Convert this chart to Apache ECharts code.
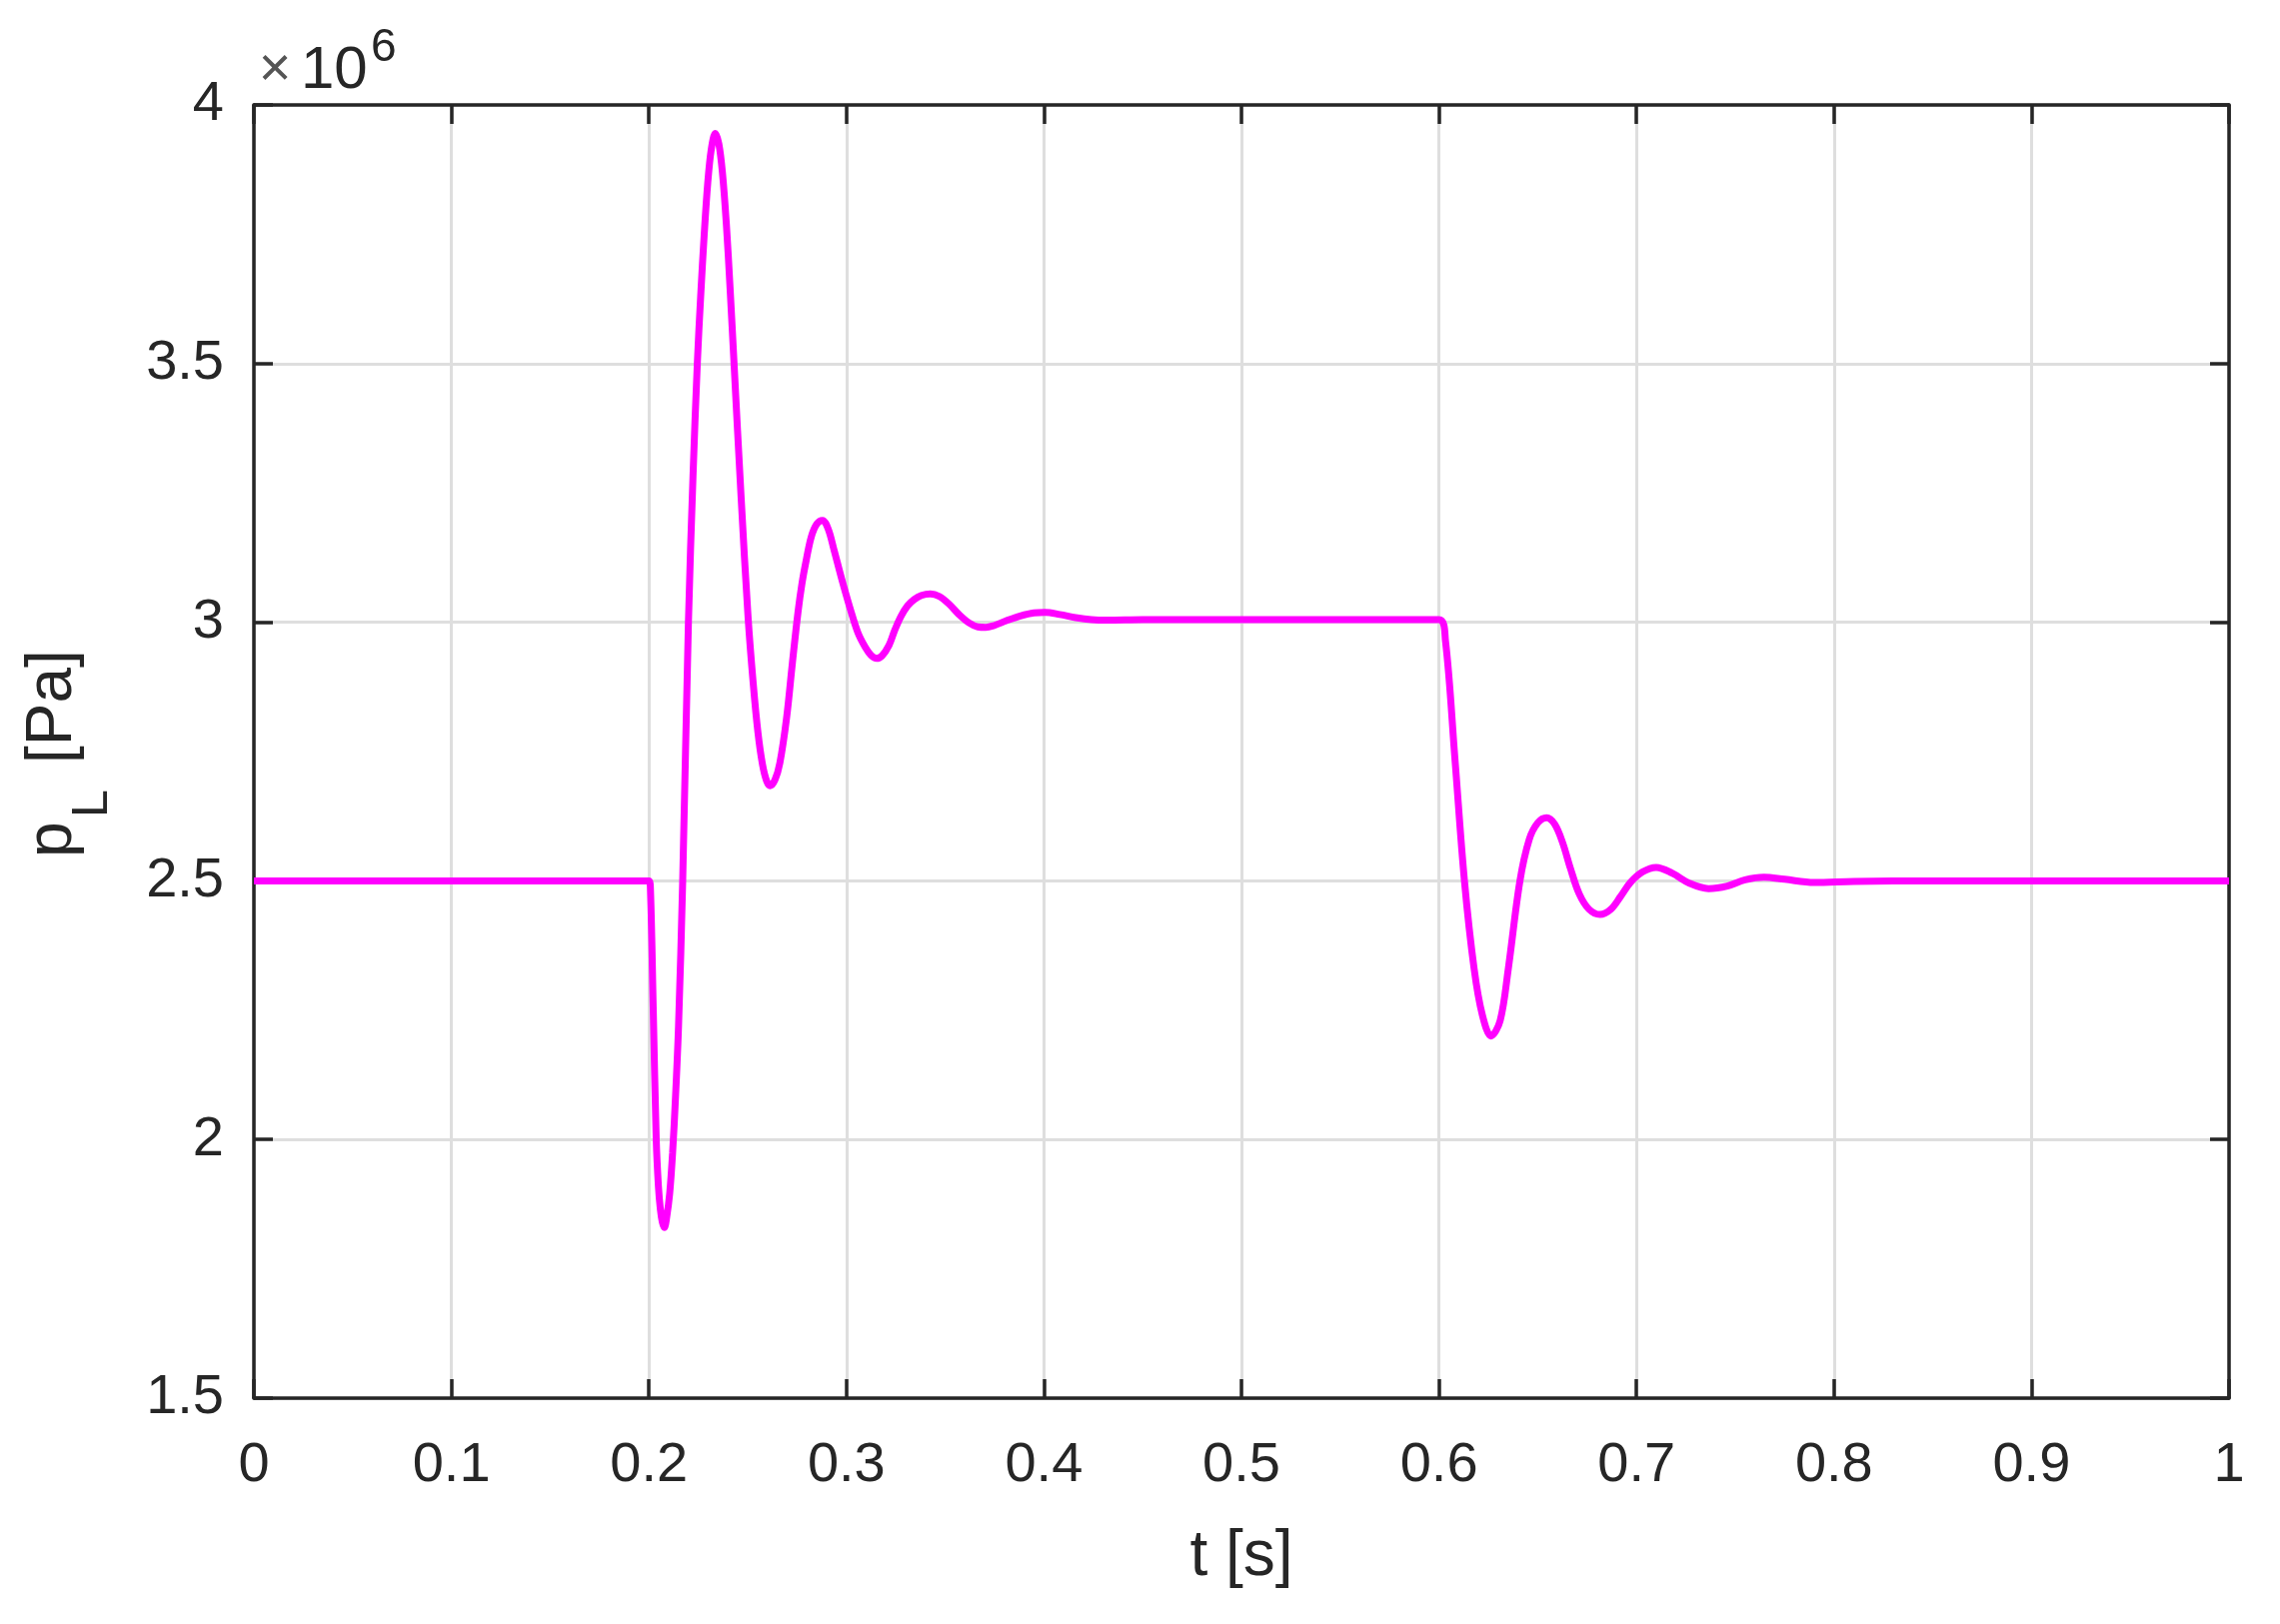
<!DOCTYPE html>
<html>
<head>
<meta charset="utf-8">
<title>p_L [Pa]</title>
<script src="https://cdn.jsdelivr.net/npm/echarts@6/dist/echarts.min.js"></script>
<style>
  html, body { margin: 0; padding: 0; background: #fff; }
  #chart { width: 2281px; height: 1625px; }
</style>
</head>
<body>
<div id="chart"></div>
<script>
// load pressure p_L, in units of 10^6 Pa
// up to t = 0.6 s (step up at 0.2 s)
var riseTime = [
  0, 0.2, 0.2008, 0.2022, 0.2037, 0.2048, 0.2058, 0.2068, 0.2078, 0.209,
  0.2105, 0.212, 0.2135, 0.215, 0.2171, 0.22, 0.2223, 0.2245, 0.2262, 0.228,
  0.2298, 0.2316, 0.2336, 0.2354, 0.2372, 0.2392, 0.2411, 0.2431, 0.2467, 0.2502,
  0.2528, 0.2552, 0.2575, 0.2596, 0.2614, 0.2638, 0.2663, 0.2697, 0.2726, 0.2755,
  0.2775, 0.2796, 0.2822, 0.285, 0.2879, 0.2908, 0.2937, 0.2975, 0.302, 0.3058,
  0.3095, 0.3125, 0.3153, 0.318, 0.3215, 0.3245, 0.3277, 0.331, 0.3343, 0.338,
  0.3425, 0.347, 0.352, 0.357, 0.362, 0.3665, 0.3705, 0.375, 0.381, 0.388,
  0.395, 0.4005, 0.408, 0.416, 0.424, 0.432, 0.45, 0.6
]
var riseP = [
  2.5, 2.5, 2.48, 2.25, 2.0, 1.91, 1.865, 1.84, 1.83, 1.85,
  1.895, 1.975, 2.085, 2.22, 2.5, 3.0, 3.28, 3.5, 3.63, 3.75,
  3.85, 3.915, 3.945, 3.925, 3.87, 3.77, 3.645, 3.5, 3.24, 3.01,
  2.882, 2.787, 2.725, 2.693, 2.684, 2.695, 2.728, 2.815, 2.92, 3.02,
  3.075, 3.119, 3.165, 3.19, 3.197, 3.18, 3.14, 3.085, 3.025, 2.98,
  2.952, 2.936, 2.93, 2.935, 2.955, 2.985, 3.012, 3.032, 3.044, 3.052,
  3.055, 3.05, 3.035, 3.015, 2.999, 2.991, 2.99, 2.994, 3.003, 3.012,
  3.018, 3.019, 3.015, 3.009, 3.005, 3.004, 3.005, 3.005
]
// after t = 0.6 s (step down)
var fallTime = [
  0.6033, 0.6081, 0.6129, 0.6178, 0.622, 0.6264, 0.631, 0.6351, 0.641, 0.6457,
  0.65, 0.6545, 0.6585, 0.6625, 0.6665, 0.671, 0.676, 0.6815, 0.687, 0.692,
  0.697, 0.703, 0.71, 0.718, 0.727, 0.7365, 0.746, 0.755, 0.7645, 0.775,
  0.79, 0.81, 0.85, 1.0
]
var fallP = [
  2.964, 2.735, 2.5, 2.33, 2.24, 2.2, 2.23, 2.33, 2.5, 2.58,
  2.612, 2.622, 2.61, 2.575, 2.525, 2.475, 2.445, 2.435, 2.445, 2.47,
  2.497, 2.517, 2.526, 2.515, 2.495, 2.485, 2.49, 2.502, 2.507, 2.503,
  2.497, 2.499, 2.5, 2.5
]
var xTicks = [0, 0.1, 0.2, 0.3, 0.4, 0.5, 0.6, 0.7, 0.8, 0.9, 1]
var yTicks = [1.5, 2, 2.5, 3, 3.5, 4]

var axisColor = '#262626'
var font = 'Liberation Sans'

var chart = echarts.init(document.getElementById('chart'))

var frameAxis = function (pos, isX) {
  return {
    type: 'value',
    position: pos,
    min: isX ? xTicks[0] : yTicks[0],
    max: isX ? xTicks[xTicks.length - 1] : yTicks[yTicks.length - 1],
    interval: isX ? 0.1 : 0.5,
    axisLine: { show: true, onZero: false, lineStyle: { color: axisColor, width: 3.5 } },
    axisTick: { show: true, inside: true, length: 19, lineStyle: { color: axisColor, width: 3.5 } },
    axisLabel: { show: false },
    splitLine: { show: false }
  }
}

var time = riseTime.concat(fallTime)
var pressure = riseP.concat(fallP)
var data = time.map(function (t, i) { return [t, pressure[i]] })

chart.setOption({
  backgroundColor: '#ffffff',
  animation: false,
  grid: { left: 254, right: 51, top: 105, bottom: 226, containLabel: false },
  xAxis: [
    {
      type: 'value',
      position: 'bottom',
      min: 0,
      max: 1,
      interval: 0.1,
      axisLine: { show: true, onZero: false, lineStyle: { color: axisColor, width: 3.5 } },
      axisTick: { show: true, inside: true, length: 19, lineStyle: { color: axisColor, width: 3.5 } },
      axisLabel: {
        margin: 40,
        color: axisColor,
        fontSize: 56,
        fontFamily: font,
        formatter: function (v) { return String(parseFloat(v.toFixed(1))) }
      },
      splitLine: { show: true, lineStyle: { color: '#dedede', width: 3 } }
    },
    frameAxis('top', true)
  ],
  yAxis: [
    {
      type: 'value',
      position: 'left',
      min: 1.5,
      max: 4,
      interval: 0.5,
      axisLine: { show: true, onZero: false, lineStyle: { color: axisColor, width: 3.5 } },
      axisTick: { show: true, inside: true, length: 19, lineStyle: { color: axisColor, width: 3.5 } },
      axisLabel: {
        margin: 30,
        color: axisColor,
        fontSize: 56,
        fontFamily: font,
        formatter: function (v) { return String(parseFloat(v.toFixed(1))) }
      },
      splitLine: { show: true, lineStyle: { color: '#dedede', width: 3 } }
    },
    frameAxis('right', false)
  ],
  graphic: [
    { type: 'text', x: 1242, y: 1558, style: { text: 't [s]', fill: axisColor, font: '64px "Liberation Sans"', textAlign: 'center', textVerticalAlign: 'middle' } },
    { type: 'text', x: 53, y: 858, rotation: Math.PI / 2, style: { text: 'p', fill: axisColor, font: '64px "Liberation Sans"', textAlign: 'left', textVerticalAlign: 'middle' } },
    { type: 'text', x: 93, y: 818, rotation: Math.PI / 2, style: { text: 'L', fill: axisColor, font: '50px "Liberation Sans"', textAlign: 'left', textVerticalAlign: 'middle' } },
    { type: 'text', x: 53, y: 764, rotation: Math.PI / 2, style: { text: '[Pa]', fill: axisColor, font: '64px "Liberation Sans"', textAlign: 'left', textVerticalAlign: 'middle' } },
    { type: 'text', x: 275, y: 71, style: { text: '×', fill: '#555', font: '56px "Liberation Sans"', textAlign: 'center', textVerticalAlign: 'middle' } },
    { type: 'text', x: 301, y: 71, style: { text: '10', fill: axisColor, font: '60px "Liberation Sans"', textAlign: 'left', textVerticalAlign: 'middle' } },
    { type: 'text', x: 371, y: 48, style: { text: '6', fill: axisColor, font: '46px "Liberation Sans"', textAlign: 'left', textVerticalAlign: 'middle' } }
  ],
  series: [
    {
      type: 'line',
      xAxisIndex: 0,
      yAxisIndex: 0,
      data: data,
      showSymbol: false,
      smooth: 0.35,
      lineStyle: { color: '#ff00ff', width: 7 }
    }
  ]
})
</script>
</body>
</html>
